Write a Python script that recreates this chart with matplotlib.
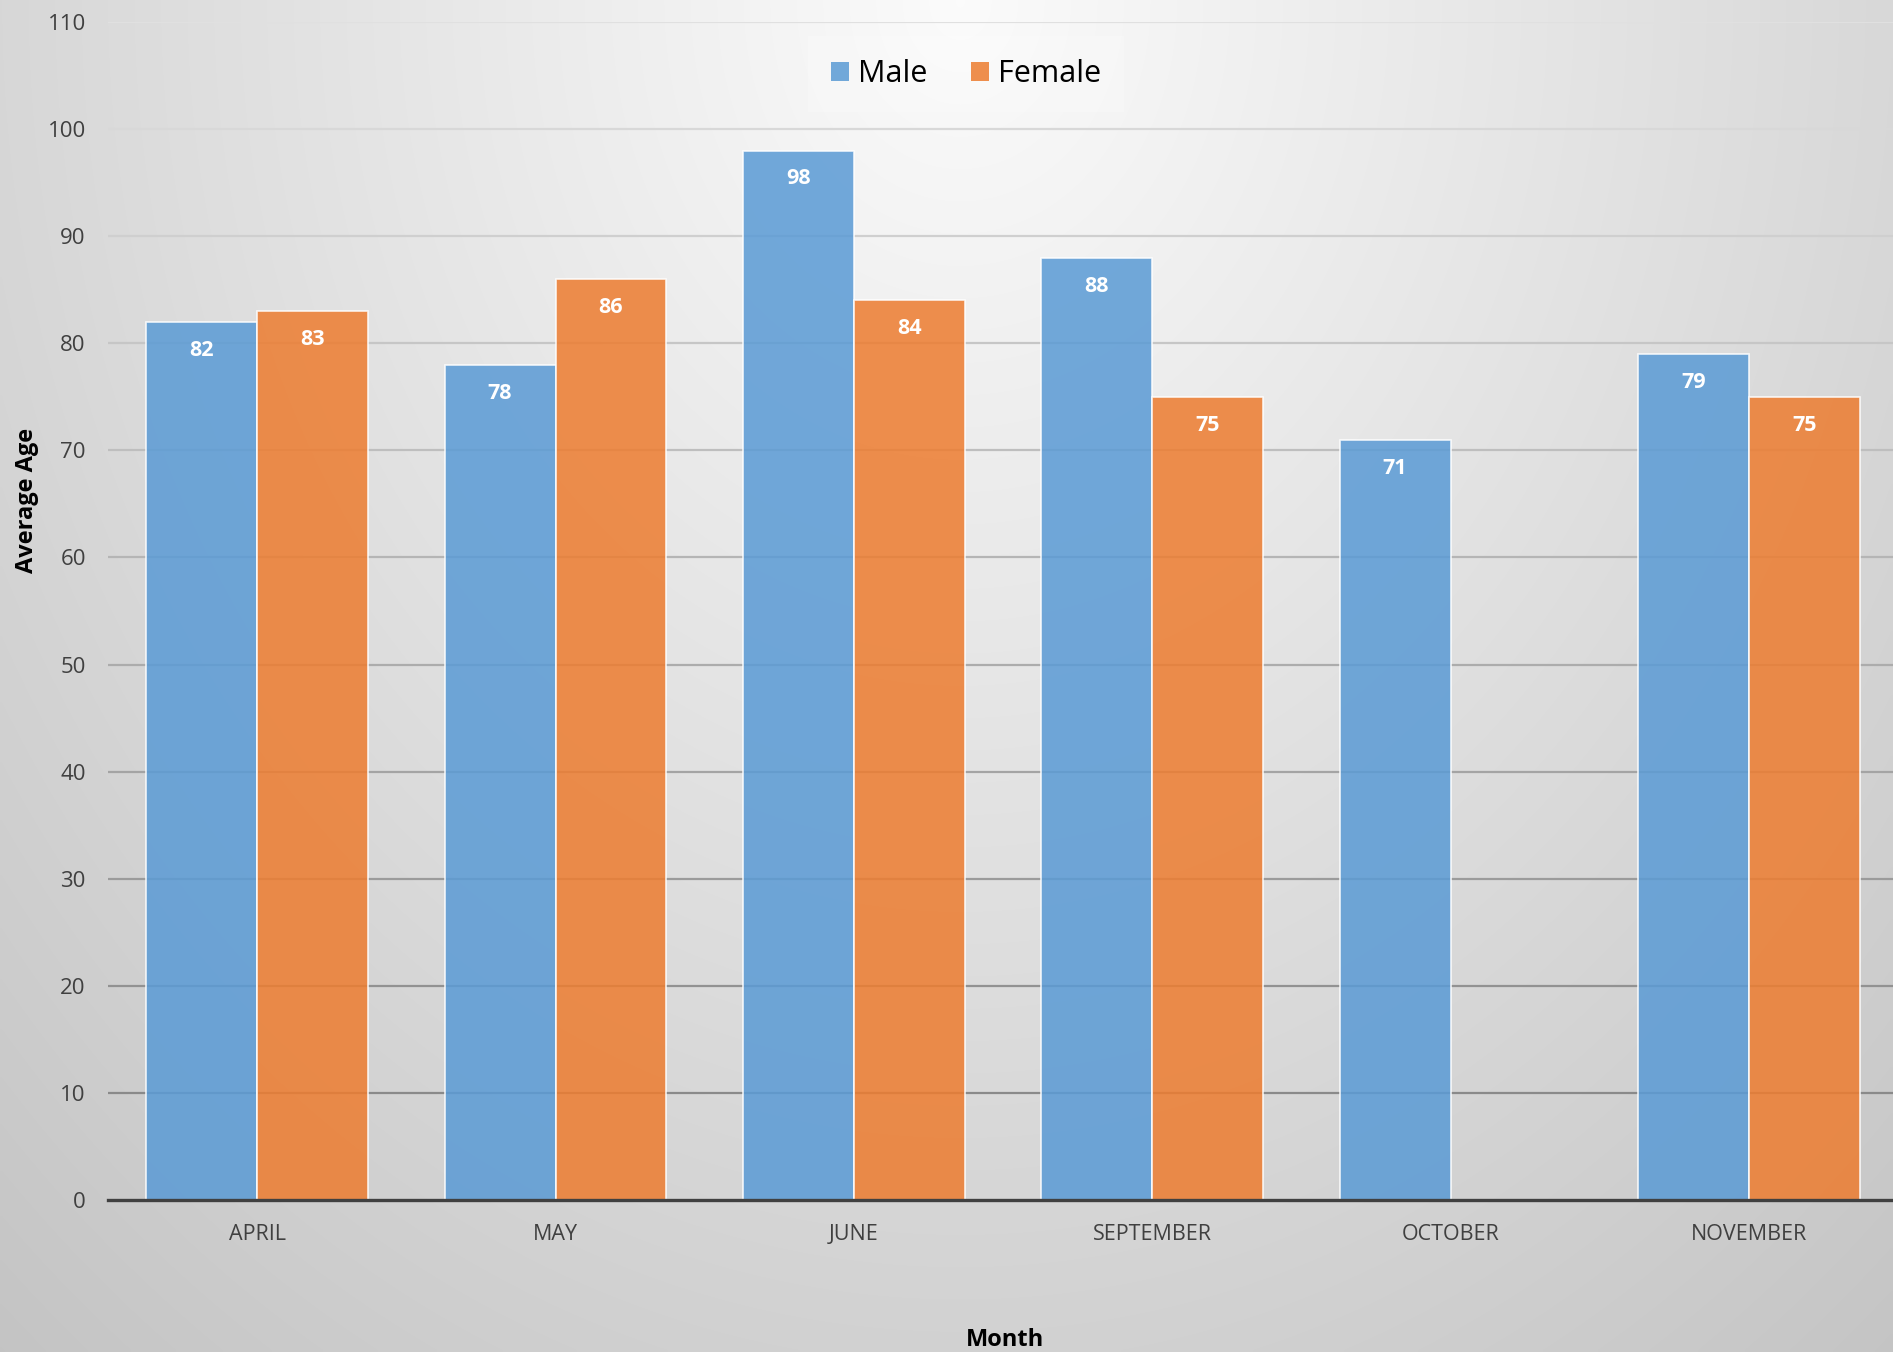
import numpy as np
import matplotlib
matplotlib.use("Agg")
import matplotlib.pyplot as plt
from matplotlib.patches import Patch

# ---- data ----
months = ["APRIL", "MAY", "JUNE", "SEPTEMBER", "OCTOBER", "NOVEMBER"]
male = [82, 78, 98, 88, 71, 79]
female = [83, 86, 84, 75, np.nan, 75]
yticks = list(range(0, 111, 10))

plt.rcParams['font.family'] = ['Open Sans', 'DejaVu Sans']

W, H = 1893, 1352
fig = plt.figure(figsize=(W / 100, H / 100), dpi=100)

# background radial gradient
bg = fig.add_axes([0, 0, 1, 1], zorder=-10)
yy, xx = np.mgrid[0:H:4, 0:W:4]
d = np.sqrt(((xx - 960) / 1150.0) ** 2 + ((yy - 0) / 1400.0) ** 2)
val = 0.985 - 0.17 * np.clip(d, 0, 1.4)
img = np.dstack([val, val, val])
bg.imshow(img, aspect='auto', extent=[0, 1, 0, 1], interpolation='bilinear')
bg.set_axis_off()

ax = fig.add_axes([108 / W, 1 - 1200 / H, (1898 - 108) / W, (1200 - 22) / H])
ax.set_facecolor('none')
ax.set_xlim(-0.5, len(months) - 0.5)
ax.set_ylim(0, 110)

# gridlines with colour darkening towards the bottom
for t in yticks[1:]:
    g = 0.88 - (110 - t) / 100.0 * 0.34
    ax.axhline(t, color=(g, g, g), lw=1.6, zorder=0.5)

x = np.arange(len(months))
bw = 0.372
blue = '#5B9BD5'
orange = '#ED7D31'
edge = (1, 1, 1, 0.4)
mb = ax.bar(x - bw / 2, male, bw, color=blue, alpha=0.86, edgecolor=edge,
            linewidth=1.2, zorder=2, label='Male')
fb = ax.bar(x + bw / 2, female, bw, color=orange, alpha=0.86, edgecolor=edge,
            linewidth=1.2, zorder=2, label='Female')

for xi, v in zip(x - bw / 2, male):
    ax.annotate(f"{v:g}", (xi, v), xytext=(0, -20.5), textcoords='offset points',
                ha='center', va='center', color='white', fontsize=15.5,
                fontweight='bold', zorder=3)
for xi, v in zip(x + bw / 2, female):
    if np.isnan(v):
        continue
    ax.annotate(f"{v:g}", (xi, v), xytext=(0, -20.5), textcoords='offset points',
                ha='center', va='center', color='white', fontsize=15.5,
                fontweight='bold', zorder=3)

ax.set_xticks(x)
ax.set_xticklabels(months)
ax.set_yticks(yticks)
ax.tick_params(axis='both', length=0, labelsize=15.5, labelcolor='#404040')
ax.tick_params(axis='y', labelsize=16, pad=16)
ax.tick_params(axis='x', pad=17)
for s in ['top', 'right', 'left']:
    ax.spines[s].set_visible(False)
ax.spines['bottom'].set_color('#404040')
ax.spines['bottom'].set_linewidth(2.4)
ax.spines['bottom'].set_zorder(4)

fig.text(27 / W, 1 - 500 / H, 'Average Age', rotation=90, ha='center',
         va='center', fontsize=17, fontweight='bold', color='black')
fig.text(1005 / W, 1 - 1346 / H, 'Month', ha='center', va='baseline',
         fontsize=17, fontweight='bold', color='black')

handles = [Patch(facecolor=blue, alpha=0.86), Patch(facecolor=orange, alpha=0.86)]
leg = fig.legend(handles, ['Male', 'Female'], loc='center',
                 bbox_to_anchor=(966 / W, 1 - 74 / H), ncol=2, fontsize=22,
                 frameon=True, fancybox=False, handlelength=0.6,
                 handleheight=0.6, handletextpad=0.3, columnspacing=1.4,
                 borderpad=0.75, framealpha=0.22, facecolor='white',
                 edgecolor='none')

fig.savefig('out.png', dpi=100)
